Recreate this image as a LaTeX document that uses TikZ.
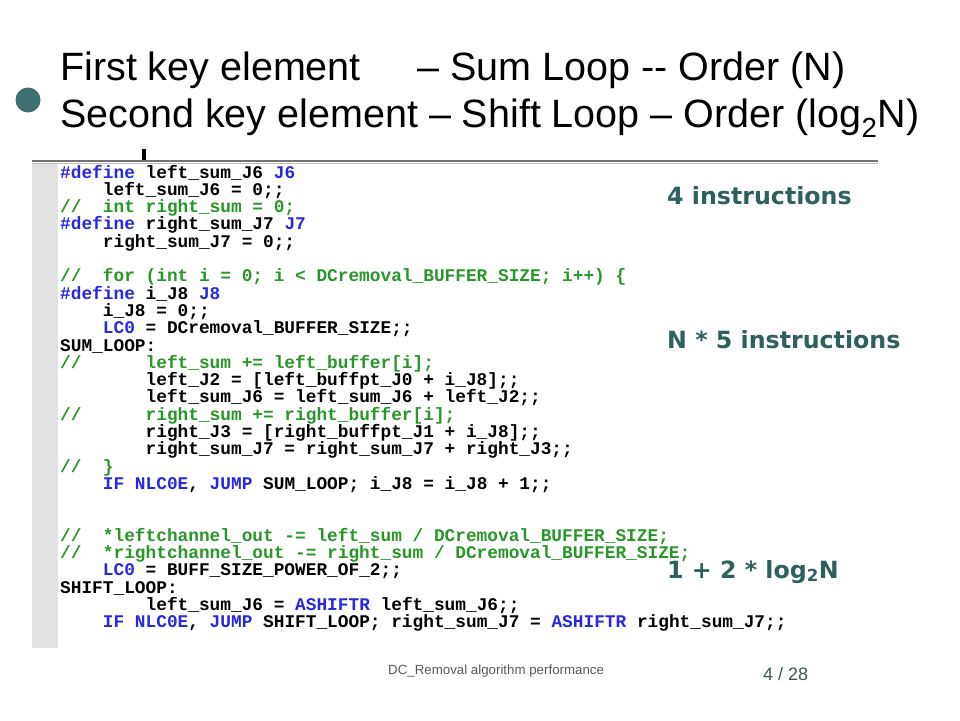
\documentclass[tikz,border=0pt]{standalone}
\usepackage{xcolor}
\usepackage{fontspec}
\setmainfont{Liberation Sans}
\setmonofont{Liberation Mono}
\newfontfamily\notefont{DejaVu Sans}
\usetikzlibrary{positioning}

\definecolor{kwblue}{HTML}{2828E0}
\definecolor{cmgreen}{HTML}{289628}
\definecolor{noteteal}{HTML}{2F5F5F}
\definecolor{bullteal}{HTML}{3D6E70}
\definecolor{gutgray}{HTML}{E2E2E2}
\definecolor{footgray}{HTML}{595959}
\definecolor{pagegray}{HTML}{3F5656}

\newcommand\kw[1]{\textcolor{kwblue}{#1}}
\newcommand\cm[1]{\textcolor{cmgreen}{#1}}

\tikzset{
  codeline/.style={anchor=base west, inner sep=0pt, font=\ttfamily\bfseries\fontsize{17.8}{17.3}\selectfont},
  titleline/.style={anchor=base west, inner sep=0pt, font=\fontsize{39.5}{46}\selectfont},
  note/.style={anchor=base west, inner sep=0pt, text=noteteal, font=\notefont\bfseries\fontsize{23.7}{28}\selectfont},
}

\begin{document}
\begin{tikzpicture}[x=1pt,y=-1pt]
      \fill[white] (0,0) rectangle (960,720);
      \useasboundingbox (0,0) rectangle (960,720);
      % title
      \node[circle,fill=bullteal,minimum size=25pt,inner sep=0pt] (bul) at (28,100) {};
      \node[titleline] (t1a) at (60,80) {First key element};
      \node[titleline] (t1b) at (417,80) {– Sum Loop -{}- Order (N)};
      \node[titleline] (t2) at (60,127) {Second key element – Shift Loop – Order (log\textsubscript{2}N)};
      % code window
      \fill[gutgray] (32,163) rectangle (58,648);
      \draw[line width=2pt,black!55] (32,161) -- (878,161);
      \draw[line width=1pt,black!25] (32,163) -- (878,163);
      \fill (142,149) rectangle (146,160);
      \foreach \n/\txt in {
        1/{\kw{\#define} left\_sum\_J6 \kw{J6}},
        2/{~~~~left\_sum\_J6 = 0;;},
        3/{\cm{//~~int right\_sum = 0;}},
        4/{\kw{\#define} right\_sum\_J7 \kw{J7}},
        5/{~~~~right\_sum\_J7 = 0;;},
        7/{\cm{//~~for (int i = 0; i < DCremoval\_BUFFER\_SIZE; i++) \{}},
        8/{\kw{\#define} i\_J8 \kw{J8}},
        9/{~~~~i\_J8 = 0;;},
        10/{~~~~\kw{LC0} = DCremoval\_BUFFER\_SIZE;;},
        11/{SUM\_LOOP:},
        12/{\cm{//~~~~~~left\_sum += left\_buffer[i];}},
        13/{~~~~~~~~left\_J2 = [left\_buffpt\_J0 + i\_J8];;},
        14/{~~~~~~~~left\_sum\_J6 = left\_sum\_J6 + left\_J2;;},
        15/{\cm{//~~~~~~right\_sum += right\_buffer[i];}},
        16/{~~~~~~~~right\_J3 = [right\_buffpt\_J1 + i\_J8];;},
        17/{~~~~~~~~right\_sum\_J7 = right\_sum\_J7 + right\_J3;;},
        18/{\cm{//~~\}}},
        19/{~~~~\kw{IF NLC0E}, \kw{JUMP} SUM\_LOOP; i\_J8 = i\_J8 + 1;;},
        22/{\cm{//~~*leftchannel\_out -= left\_sum / DCremoval\_BUFFER\_SIZE;}},
        23/{\cm{//~~*rightchannel\_out -= right\_sum / DCremoval\_BUFFER\_SIZE;}},
        24/{~~~~\kw{LC0} = BUFF\_SIZE\_POWER\_OF\_2;;},
        25/{SHIFT\_LOOP:},
        26/{~~~~~~~~left\_sum\_J6 = \kw{ASHIFTR} left\_sum\_J6;;},
        27/{~~~~\kw{IF NLC0E}, \kw{JUMP} SHIFT\_LOOP; right\_sum\_J7 = \kw{ASHIFTR} right\_sum\_J7;;}}
        \node[codeline] (c\n) at (60,178+17.3*\n-17.3) {\txt};
      % instruction counts
      \node[note] (n1) at (667,204) {4 instructions};
      \node[note] (n2) at (667,348) {N * 5 instructions};
      \node[note] (n3) at (667,578) {1 + 2 * log\textsubscript{2}N};
      % footer
      \node[anchor=base west,inner sep=0pt,text=footgray,font=\fontsize{13.3}{16}\selectfont] (foot) at (388,674) {DC\_Removal algorithm performance};
      \node[anchor=base west,inner sep=0pt,text=pagegray,font=\fontsize{18}{20}\selectfont] (page) at (763,680) {4 / 28};
\end{tikzpicture}
\end{document}
